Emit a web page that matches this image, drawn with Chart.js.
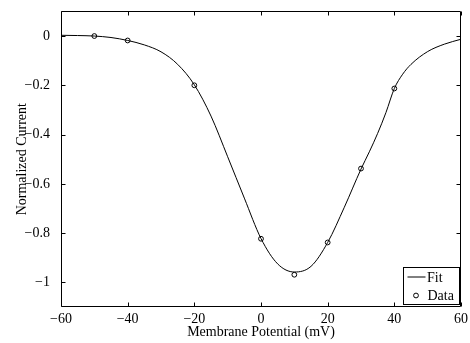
<!DOCTYPE html>
<html><head><meta charset="utf-8">
<script src="https://cdn.jsdelivr.net/npm/chart.js@4"></script>
<style>html,body{margin:0;padding:0;background:#fff}#wrap{width:470px;height:343px;position:relative}</style>
</head><body><div id="wrap"><canvas id="c" width="470" height="343"></canvas></div>
<script>
// Fit curve (mV, normalized current)
const fitX = [-60,-55,-50,-45,-40,-35,-30,-25,-20,-15,-10,-5,0,5,10,15,20,25,30,32.5,35,37.5,40,42.5,45,50,55,60];
const fitY = [0.003,0.002,0.0,-0.006,-0.018,-0.036,-0.064,-0.115,-0.198,-0.325,-0.49,-0.658,-0.822,-0.925,-0.958,-0.935,-0.838,-0.695,-0.54,-0.47,-0.395,-0.31,-0.213,-0.155,-0.115,-0.063,-0.033,-0.013];
// Measured data points
const dataX = [-50,-40,-20,0,10,20,30,40];
const dataY = [0.0,-0.018,-0.2,-0.823,-0.969,-0.838,-0.538,-0.213];
// Ticks
const xTickValues = [-60,-40,-20,0,20,40,60];
const xTickLabels = ['\u221260','\u221240','\u221220','0','20','40','60'];
const yTickValues = [-1,-0.8,-0.6,-0.4,-0.2,0];
const yTickLabels = ['\u22121','\u22120.8','\u22120.6','\u22120.4','\u22120.2','0'];
const seriesNames = ['Fit','Data'];

Chart.defaults.font.family = "'Liberation Serif', 'Times New Roman', serif";
Chart.defaults.font.size = 14;
Chart.defaults.color = '#000';

const FONT = "14px 'Liberation Serif', 'Times New Roman', serif";

const framePlugin = {
  id: 'frame',
  afterDatasetsDraw(chart) {
    const {ctx, chartArea: a, scales} = chart;
    ctx.save();
    ctx.strokeStyle = '#000';
    ctx.lineWidth = 1;
    const L = Math.round(a.left) + 0.5, R = Math.round(a.right) - 0.5;
    const T = Math.round(a.top) + 0.5, B = Math.round(a.bottom) - 0.5;
    ctx.beginPath();
    ctx.rect(L, T, R - L, B - T);
    const tl = 4;
    xTickValues.forEach(v => {
      const px = Math.round(scales.x.getPixelForValue(v)) + 0.5;
      ctx.moveTo(px, B); ctx.lineTo(px, B - tl);
      ctx.moveTo(px, T); ctx.lineTo(px, T + tl);
    });
    yTickValues.forEach(v => {
      const py = Math.round(scales.y.getPixelForValue(v)) + 0.5;
      ctx.moveTo(L, py); ctx.lineTo(L + tl, py);
      ctx.moveTo(R, py); ctx.lineTo(R - tl, py);
    });
    ctx.stroke();
    ctx.restore();
  },
  afterDraw(chart) {
    // legend box in the lower right corner of the plot
    const {ctx, chartArea: a} = chart;
    ctx.save();
    const w = 56, h = 37;
    const x0 = Math.round(a.right) - 2 - w + 0.5, y0 = Math.round(a.bottom) - 3 - h + 0.5;
    ctx.fillStyle = '#fff';
    ctx.fillRect(x0, y0, w, h);
    ctx.strokeStyle = '#000';
    ctx.lineWidth = 1;
    ctx.strokeRect(x0, y0, w, h);
    ctx.font = FONT;
    ctx.fillStyle = '#000';
    ctx.textBaseline = 'alphabetic';
    ctx.textAlign = 'left';
    // Fit entry
    ctx.beginPath();
    ctx.moveTo(x0 + 4, y0 + 9.5);
    ctx.lineTo(x0 + 22, y0 + 9.5);
    ctx.stroke();
    ctx.fillText(seriesNames[0], x0 + 23.5, y0 + 14);
    // Data entry
    ctx.beginPath();
    ctx.arc(x0 + 12.5, y0 + 28, 2.4, 0, Math.PI * 2);
    ctx.stroke();
    ctx.fillText(seriesNames[1], x0 + 24, y0 + 32.5);
    ctx.restore();
  }
};

new Chart(document.getElementById('c'), {
  type: 'scatter',
  data: {
    datasets: [
      {
        label: seriesNames[0],
        data: fitX.map((x, i) => ({x, y: fitY[i]})),
        showLine: true,
        borderColor: '#000',
        borderWidth: 1,
        pointRadius: 0,
        cubicInterpolationMode: 'monotone',
        fill: false
      },
      {
        label: seriesNames[1],
        data: dataX.map((x, i) => ({x, y: dataY[i]})),
        showLine: false,
        pointStyle: 'circle',
        pointRadius: 2.4,
        pointBorderWidth: 1,
        pointBorderColor: '#000',
        pointBackgroundColor: 'rgba(0,0,0,0)'
      }
    ]
  },
  options: {
    responsive: false,
    animation: false,
    devicePixelRatio: 1,
    layout: {padding: {left: 0, right: 9, top: 8, bottom: 0}},
    plugins: {legend: {display: false}, tooltip: {enabled: false}},
    scales: {
      x: {
        type: 'linear',
        min: -60, max: 60,
        grid: {display: false},
        border: {display: false},
        afterBuildTicks: s => { s.ticks = xTickValues.map(v => ({value: v})); },
        afterFit: s => { s.height = 36; },
        ticks: {
          padding: -4,
          maxRotation: 0,
          autoSkip: false,
          callback: (v) => xTickLabels[xTickValues.indexOf(v)]
        },
        title: {display: true, text: 'Membrane Potential (mV)', padding: {top: 0, bottom: 2.6}}
      },
      y: {
        type: 'linear',
        min: -1.1, max: 0.1,
        grid: {display: false},
        border: {display: false},
        afterBuildTicks: s => { s.ticks = yTickValues.map(v => ({value: v})); },
        afterFit: s => { s.width = 61; },
        ticks: {
          padding: 3,
          autoSkip: false,
          callback: (v) => {
            const i = yTickValues.findIndex(t => Math.abs(t - v) < 1e-9);
            return yTickLabels[i];
          }
        },
        title: {display: true, text: 'Normalized Current', padding: {top: 13.6, bottom: 0}}
      }
    }
  },
  plugins: [framePlugin]
});
</script>
</body></html>
